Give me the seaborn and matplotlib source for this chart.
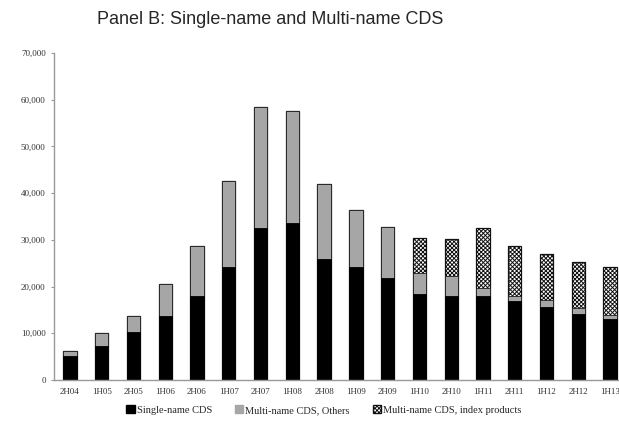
import pandas as pd
import numpy as np
import matplotlib
matplotlib.use("Agg")
import matplotlib.pyplot as plt
import seaborn as sns
from matplotlib.patches import Patch

sns.set_style("white")
plt.rcParams['hatch.linewidth'] = 0.7
plt.rcParams['hatch.color'] = '#333333'

# semiannual periods
periods = ["2H04", "1H05", "2H05", "1H06", "2H06", "1H07", "2H07", "1H08", "2H08",
           "1H09", "2H09", "1H10", "2H10", "1H11", "2H11", "1H12", "2H12", "1H13"]
single_name = [5100, 7300, 10300, 13700, 18000, 24200, 32500, 33600, 25900,
               24200, 21800, 18400, 18000, 18000, 16900, 15600, 14100, 13100]
multi_others = [1100, 2700, 3400, 6800, 10700, 18400, 26000, 24000, 16100,
                12200, 11000, 4500, 4300, 1700, 1100, 1500, 1300, 800]
multi_index = [0, 0, 0, 0, 0, 0, 0, 0, 0,
               0, 0, 7500, 7900, 12800, 10700, 9900, 9900, 10300]
ytick_vals = [0, 10000, 20000, 30000, 40000, 50000, 60000, 70000]

df = pd.DataFrame({"period": periods, "single": single_name,
                   "others": multi_others, "index": multi_index})
df["lvl2"] = df["single"] + df["others"]
df["total"] = df["lvl2"] + df["index"]

fig = plt.figure(figsize=(6.19, 4.23), dpi=100)
ax = fig.add_axes([54 / 619, 43 / 423, 572 / 619, 327 / 423])

# stacked by overlaying cumulative bars
sns.barplot(data=df, x="period", y="total", order=periods, color="white",
            edgecolor="#111111", linewidth=0.9, hatch="xxxxxxxx", width=0.42,
            saturation=1, ax=ax)
sns.barplot(data=df, x="period", y="lvl2", order=periods, color="#a6a6a6",
            edgecolor="#222222", linewidth=0.6, width=0.42, saturation=1, ax=ax)
sns.barplot(data=df, x="period", y="single", order=periods, color="black",
            edgecolor="black", linewidth=0.6, width=0.42, saturation=1, ax=ax)

ax.set_xlim(-0.5, len(periods) - 0.5)
ax.set_ylim(0, 70000)
ax.set_yticks(ytick_vals)
ax.set_yticklabels([f"{v:,}" for v in ytick_vals], fontsize=6.5, family="Liberation Serif",
                   color="#333333")
ax.set_xticklabels(periods, fontsize=6.5, family="Liberation Serif", color="#333333")
ax.set_xlabel("")
ax.set_ylabel("")
ax.set_xticks([1.5, 4.5, 7.5, 10.5, 13.5, 16.5], minor=True)
ax.tick_params(axis="x", which="major", length=0, pad=6)
ax.tick_params(axis="x", which="minor", length=2.5, color="#999999", direction="out")
ax.tick_params(axis="y", length=2, color="#999999", pad=4, left=True)

for s in ["top", "right"]:
    ax.spines[s].set_visible(False)
for s in ["left", "bottom"]:
    ax.spines[s].set_color("#999999")
    ax.spines[s].set_linewidth(1.0)

fig.text(270 / 619, 1 - 19 / 423, "Panel B: Single-name and Multi-name CDS",
         ha="center", va="center", fontsize=13, family="Liberation Sans")

handles = [Patch(facecolor="black", edgecolor="black", label="Single-name CDS"),
           Patch(facecolor="#a6a6a6", edgecolor="#a6a6a6", label="Multi-name CDS, Others"),
           Patch(facecolor="white", edgecolor="#111111", hatch="xxxxxxxx",
                 label="Multi-name CDS, index products")]
fig.legend(handles=handles, loc="center", bbox_to_anchor=(324 / 619, 1 - 410 / 423),
           ncol=3, frameon=False, prop={"family": "Liberation Serif", "size": 7.5},
           handlelength=0.8, handleheight=0.8, handletextpad=0.2, columnspacing=2.2)

fig.savefig("out.png", dpi=100)
